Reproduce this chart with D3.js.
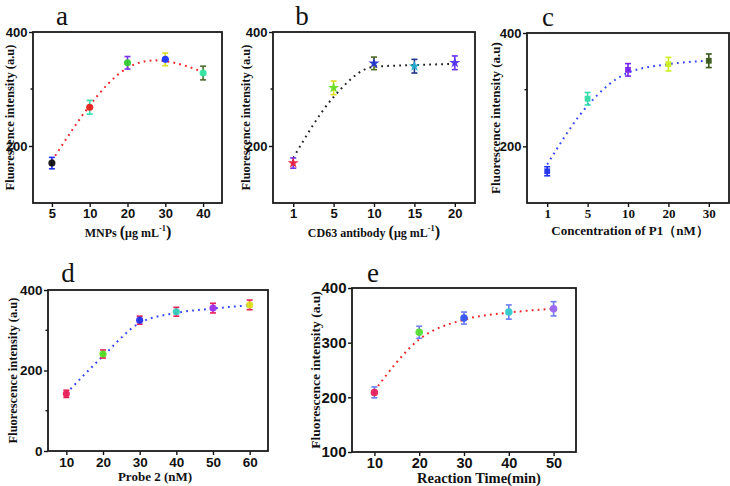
<!DOCTYPE html>
<html><head><meta charset="utf-8">
<script src="https://cdn.jsdelivr.net/npm/d3@7"></script>
<style>body{margin:0;background:#fff}svg{display:block}</style>
</head><body>
<svg id="chart" width="730" height="486"></svg>
<script>
// ---------- DATA ----------
// Panel a: MNPs
const catsA = ["5","10","20","30","40"];
const valsA = [170, 268, 346, 352, 328];
const errA  = [10, 12, 11, 11, 12];
const fitA  = [174, 271, 337, 349, 330];
const markA = ["#111111","#e8201c","#33cc33","#1a33ff","#33e6a0"];
const barA  = ["#2233ee","#33ddaa","#7733ee","#dddd22","#4f6b2a"];
// Panel b: CD63 antibody
const catsB = ["1","5","10","15","20"];
const valsB = [170, 302, 345, 340, 346];
const errB  = [9, 12, 11, 12, 12];
const fitB  = [179, 286, 339, 342, 344];
const markB = ["#e8203c","#66dd22","#2233cc","#22aacc","#5533ee"];
const barB  = ["#7733ee","#dddd22","#4b6b1f","#223388","#6633ff"];
// Panel c: Concentration of P1
const catsC = ["1","5","10","20","30"];
const valsC = [156, 284, 335, 345, 351];
const errC  = [8, 11, 11, 12, 12];
const fitC  = [168, 272, 330, 345, 351];
const markC = ["#2233ee","#33ddaa","#7722ee","#ccee22","#3a5a1a"];
const barC  = ["#2233ee","#33ddaa","#7722ee","#ccee22","#3a5a1a"];
// Panel d: Probe 2
const catsD = ["10","20","30","40","50","60"];
const valsD = [142, 241, 325, 346, 355, 363];
const errD  = [9, 10, 10, 11, 12, 12];
const fitD  = [143, 236, 318, 343, 354, 362];
const markD = ["#e8205a","#55dd22","#2233ee","#33ccbb","#9933ee","#dddd22"];
const barD  = ["#e8205a","#e8205a","#e8205a","#e8205a","#e8205a","#e8205a"];
// Panel e: Reaction Time
const catsE = ["10","20","30","40","50"];
const valsE = [209, 319, 345, 356, 362];
const errE  = [10, 11, 11, 13, 13];
const fitE  = [212, 306, 342, 355, 362];
const markE = ["#e8205a","#55dd33","#3355ee","#33cccc","#9966ee"];
const barE  = ["#5566ee","#5566ee","#5566ee","#5566ee","#5566ee"];

const yTitle = "Fluorescence intensity (a.u)";

// ---------- DRAW ----------
const svg = d3.select("#chart");
const serif = "'Liberation Serif','Times New Roman',serif";
const sans = "'Liberation Sans',Arial,sans-serif";

function panel(o){
  const g = svg.append("g");
  const x = d3.scalePoint().domain(o.cats).range([o.l, o.r]).padding(0.5);
  const y = d3.scaleLinear().domain(o.yDom).range([o.b, o.t]);
  o.minor.forEach(v => g.append("line").attr("x1", o.l).attr("x2", o.l-2.5)
    .attr("y1", y(v)).attr("y2", y(v)).attr("stroke","#111").attr("stroke-width",1.4));
  const ya = g.append("g").attr("transform",`translate(${o.l},0)`)
    .call(d3.axisLeft(y).tickValues(o.major).tickSize(4).tickPadding(1.5).tickFormat(d3.format("d")));
  ya.select(".domain").remove();
  ya.selectAll("line").attr("stroke","#111").attr("stroke-width",1.4);
  ya.selectAll("text").attr("font-family",sans).attr("font-weight","bold").attr("font-size",o.yfs).attr("fill","#111");
  const xa = g.append("g").attr("transform",`translate(0,${o.b})`)
    .call(d3.axisBottom(x).tickSize(4).tickPadding(2));
  xa.select(".domain").remove();
  xa.selectAll("line").attr("stroke","#111").attr("stroke-width",1.4);
  xa.selectAll("text").attr("font-family",o.xSerif?serif:sans).attr("font-weight","bold").attr("font-size",o.xfs).attr("fill","#111");
  g.append("rect").attr("x",o.l).attr("y",o.t).attr("width",o.r-o.l).attr("height",o.b-o.t)
    .attr("fill","none").attr("stroke","#1a1a1a").attr("stroke-width",1.8);
  const line = d3.line().x((d,i)=>x(o.cats[i])).y(d=>y(d)).curve(o.curve);
  g.append("path").attr("d", line(o.fit)).attr("fill","none").attr("stroke",o.fitColor)
    .attr("stroke-width",2).attr("stroke-dasharray","1.8,4.2").attr("stroke-linecap","butt");
  o.cats.forEach((c,i)=>{
    const cx = x(c), v = o.vals[i], e = o.err[i];
    const eg = g.append("g").attr("stroke",o.bar[i]).attr("stroke-width",1.6).attr("opacity",o.barOp||1);
    eg.append("line").attr("x1",cx).attr("x2",cx).attr("y1",y(v-e)).attr("y2",y(v+e));
    eg.append("line").attr("x1",cx-3).attr("x2",cx+3).attr("y1",y(v-e)).attr("y2",y(v-e));
    eg.append("line").attr("x1",cx-3).attr("x2",cx+3).attr("y1",y(v+e)).attr("y2",y(v+e));
    g.append("path").attr("d", d3.symbol().type(o.sym).size(o.symSize)())
      .attr("transform",`translate(${cx},${y(v)})`).attr("fill",o.mark[i]).attr("opacity",0.95);
  });
  g.append("text").attr("transform",`translate(${o.ytx},${(o.t+o.b)/2}) rotate(-90)`)
    .attr("text-anchor","middle").attr("dominant-baseline","central")
    .attr("font-family",serif).attr("font-weight","bold").attr("font-size",o.ytfs).attr("fill","#111")
    .text(yTitle);
  const xt = g.append("text").attr("x",o.xtx).attr("y",o.xty).attr("text-anchor","middle")
    .attr("font-family",serif).attr("font-weight","bold").attr("font-size",o.xtfs).attr("fill","#111");
  o.xTitle.forEach(p => {
    const ts = xt.append("tspan").text(p.t);
    if (p.sup) ts.attr("font-size", o.xtfs*0.7).attr("dy",-6);
    if (p.down) ts.attr("dy",6);
    if (p.big) ts.attr("font-size", o.xtfs*1.35);
  });
  g.append("text").attr("x",o.lx).attr("y",o.ly).attr("text-anchor","middle")
    .attr("font-family",serif).attr("font-size",27).attr("fill","#111").text(o.letter);
}

panel({cats:catsA, vals:valsA, err:errA, fit:fitA, mark:markA, bar:barA,
  l:33,t:32,r:222,b:203, yDom:[100,400], major:[200,400], minor:[300], yfs:13, xfs:13,
  curve:d3.curveNatural, fitColor:"#ee2222", sym:d3.symbolCircle, symSize:40,
  ytx:10, ytfs:12.5, xtx:128, xty:237, xtfs:12,
  xTitle:[{t:"MNPs "},{t:"(",big:true},{t:"μg mL"},{t:"-1",sup:true},{t:")",big:true,down:true}],
  letter:"a", lx:62, ly:25});
panel({cats:catsB, vals:valsB, err:errB, fit:fitB, mark:markB, bar:barB,
  l:273,t:32,r:475,b:203, yDom:[100,400], major:[200,400], minor:[300], yfs:13, xfs:13,
  curve:d3.curveMonotoneX, fitColor:"#222222", sym:d3.symbolStar, symSize:38,
  ytx:246, ytfs:12.5, xtx:374, xty:237, xtfs:12,
  xTitle:[{t:"CD63 antibody "},{t:"(",big:true},{t:"μg mL"},{t:"-1",sup:true},{t:")",big:true,down:true}],
  letter:"b", lx:302, ly:25});
panel({cats:catsC, vals:valsC, err:errC, fit:fitC, mark:markC, bar:barC,
  l:527,t:33,r:729,b:203, yDom:[100,400], major:[200,400], minor:[300], yfs:13, xfs:13, xSerif:true,
  curve:d3.curveMonotoneX, fitColor:"#3344ff", sym:d3.symbolSquare, symSize:34,
  ytx:495, ytfs:13, xtx:630, xty:235, xtfs:13,
  xTitle:[{t:"Concentration of P1（nM）"}],
  letter:"c", lx:548, ly:26});
panel({cats:catsD, vals:valsD, err:errD, fit:fitD, mark:markD, bar:barD,
  l:48,t:290,r:268,b:451, yDom:[0,400], major:[0,200,400], minor:[100,300], yfs:13.5, xfs:13.5,
  curve:d3.curveMonotoneX, fitColor:"#3344ff", sym:d3.symbolCircle, symSize:40,
  ytx:13, ytfs:12.5, xtx:155, xty:481, xtfs:13,
  xTitle:[{t:"Probe 2 (nM)"}],
  letter:"d", lx:68, ly:282});
panel({cats:catsE, vals:valsE, err:errE, fit:fitE, mark:markE, bar:barE, barOp:0.85,
  l:352,t:288,r:576,b:452, yDom:[100,400], major:[100,200,300,400], minor:[], yfs:15, xfs:14.5,
  curve:d3.curveMonotoneX, fitColor:"#ee2222", sym:d3.symbolCircle, symSize:44,
  ytx:315, ytfs:13.5, xtx:479, xty:483, xtfs:14.5,
  xTitle:[{t:"Reaction Time(min)"}],
  letter:"e", lx:373, ly:282});
</script>
</body></html>
